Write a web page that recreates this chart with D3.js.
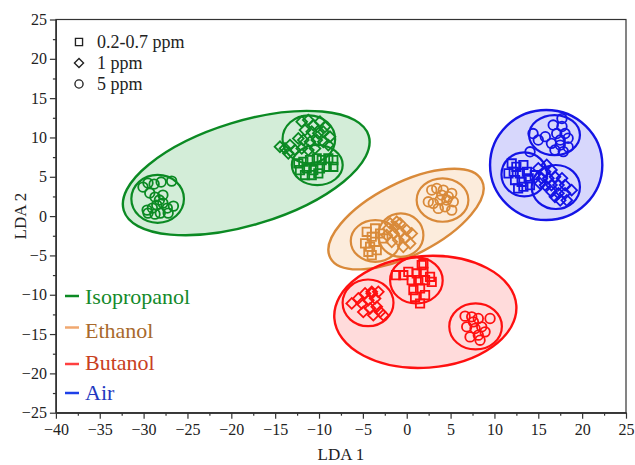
<!DOCTYPE html>
<html>
<head>
<meta charset="utf-8">
<script src="https://cdn.jsdelivr.net/npm/d3@7"></script>
<style>
  body { margin: 0; background: #fff; }
  text { font-family: "Liberation Serif", "DejaVu Serif", serif; }
</style>
</head>
<body>
<div id="chart"></div>
<script>
// gases, in drawing order
var gases = ["Isopropanol", "Ethanol", "Butanol", "Air"];

// LDA scores [LDA1, LDA2]
var isoSquares = [[-12.36, 6.7], [-11.79, 6.91], [-11.03, 7.12], [-10.26, 7.34], [-9.69, 7.12], [-8.94, 7.34], [-8.37, 7.12],
  [-12.17, 5.85], [-11.4, 6.07], [-10.65, 5.85], [-9.89, 6.07], [-9.12, 6.27], [-8.37, 6.27], [-11.6, 5.22], [-10.83, 5.22], [-10.08, 5.43]];
var isoDiamonds = [[-11.97, 12.0], [-11.22, 12.21], [-10.65, 11.58], [-9.89, 12.0], [-9.32, 11.36], [-11.6, 10.94], [-10.83, 10.73],
  [-10.08, 10.52], [-9.51, 10.73], [-8.75, 10.09], [-12.36, 9.88], [-11.79, 9.67], [-11.03, 9.45], [-10.26, 9.67], [-9.51, 9.45],
  [-8.94, 9.03], [-14.45, 8.82], [-13.88, 8.61], [-13.31, 9.03], [-12.74, 8.4], [-11.97, 8.61], [-11.22, 8.4], [-13.5, 7.98], [-10.46, 8.61]];
var isoCircles = [[-30.07, 3.69], [-29.5, 4.2], [-28.8, 4.07], [-28.0, 4.33], [-26.8, 4.45], [-29.3, 2.93], [-28.7, 2.42], [-28.2, 2.04],
  [-27.8, 1.65], [-28.5, 1.4], [-29.0, 1.02], [-29.6, 0.76], [-27.3, 1.02], [-26.6, 1.27], [-27.2, 0.38], [-28.1, 0.38], [-28.7, 0.25],
  [-29.5, 0.38], [-27.8, 2.67]];

var ethSquares = [[-4.56, -2.0], [-3.99, -2.63], [-4.75, -3.47], [-4.18, -3.9], [-3.61, -3.27], [-3.42, -4.33], [-3.99, -4.96],
  [-3.04, -2.21], [-2.67, -2.84], [-4.37, -4.54], [-3.61, -1.57]];
var ethDiamonds = [[-2.1, -1.57], [-1.33, -1.36], [-0.76, -0.93], [-2.28, -2.42], [-1.53, -2.2], [-0.76, -2.0], [0, -1.78], [0.57, -2.2],
  [-1.71, -3.27], [-0.96, -3.05], [-0.19, -2.84], [-1.14, -0.72], [-1.9, -0.93], [-0.39, -3.9], [0.38, -3.47]];
var ethCircles = [[2.85, 3.31], [3.42, 3.52], [4.17, 3.31], [5.13, 2.89], [2.46, 1.82], [3.03, 1.62], [3.8, 2.04], [4.56, 2.04],
  [5.31, 1.82], [3.6, 0.98], [4.37, 1.18], [5.13, 0.76], [3.99, 2.67], [4.74, 2.46]];

var butSquares = [[-1.22, -7.51], [0.18, -7.09], [1.14, -7.29], [1.9, -6.02], [1.9, -7.09], [2.85, -8.36], [0.57, -8.14], [1.32, -8.14],
  [2.09, -8.14], [0.76, -9.41], [1.52, -9.2], [0.95, -10.27], [2.09, -10.05], [1.52, -11.11], [1.71, -6.23], [-0.39, -7.51], [2.66, -7.72]];
var butDiamonds = [[-6.27, -11.1], [-5.52, -10.47], [-4.75, -9.83], [-3.99, -9.63], [-3.24, -9.63], [-5.13, -11.1], [-4.38, -10.69],
  [-3.61, -10.47], [-4.18, -11.74], [-3.42, -11.54], [-3.04, -12.18], [-3.81, -12.6], [-4.95, -12.18], [-3.99, -9.83], [-2.67, -12.6]];
var butCircles = [[6.65, -12.72], [7.41, -12.81], [8.16, -13.02], [9.5, -13.02], [6.84, -14.08], [7.6, -13.45], [8.55, -14.08],
  [7.22, -15.36], [8.16, -15.14], [8.93, -14.72], [7.79, -14.29], [8.36, -15.78]];

var airSquares = [[11.97, 6.7], [12.5, 6.27], [13.3, 6.5], [12.2, 5.64], [12.9, 5.43], [13.7, 5.64], [12.35, 4.58], [13.1, 4.36],
  [13.9, 4.8], [13.3, 3.73], [12.7, 3.52], [14.05, 3.94], [14.6, 5.2], [11.6, 5.43]];
var airDiamonds = [[15.0, 6.07], [15.77, 5.64], [16.5, 5.85], [15.4, 4.8], [16.15, 4.8], [16.9, 5.0], [17.7, 4.8], [15.77, 3.94],
  [16.5, 3.94], [17.3, 3.94], [18.05, 3.94], [16.5, 3.1], [17.3, 2.9], [18.05, 2.9], [18.8, 3.3], [17.5, 2.0], [18.25, 2.0],
  [15.2, 4.15], [15.96, 6.5], [16.9, 2.46]];
var airCircles = [[14.4, 10.5], [15.0, 9.67], [14.06, 8.18], [16.7, 11.58], [17.7, 12.4], [17.1, 10.5], [18.05, 10.5], [17.5, 9.67],
  [18.4, 9.9], [16.5, 9.25], [17.5, 9.03], [18.4, 8.8], [16.9, 8.4], [17.85, 8.2], [15.8, 10.1], [17.7, 11.4]];

// group ellipses: [cx, cy, rx, ry, rotation in degrees]
var gasEllipses = [[-18.3, 5.47, 14.6, 6.6, -17], [-0.08, -0.38, 9.7, 4.6, -27], [2.12, -12.18, 10.4, 7.1, -4], [15.9, 6.5, 6.4, 7.0, 0]];
var squareEllipses = [[-10.2, 6.49, 2.9, 2.55, 0], [-3.58, -3.16, 2.8, 2.65, 0], [1.1, -8.18, 3.0, 2.93, 0], [13.4, 5.3, 2.6, 2.8, 0]];
var diamondEllipses = [[-11.16, 9.77, 3.0, 3.05, 0], [-0.67, -2.42, 2.57, 2.76, 0], [-4.41, -11.03, 2.9, 2.97, 0], [17.0, 3.7, 2.75, 2.8, 0]];
var circleEllipses = [[-28.4, 2.2, 3.0, 3.05, 0], [4.08, 2.04, 2.95, 2.76, 0], [7.85, -14.03, 3.0, 2.93, 0], [16.85, 10.3, 2.9, 2.55, 0]];

var concLabels = ["0.2-0.7 ppm", "1 ppm", "5 ppm"];
var xTicks = d3.range(-40, 26, 5);
var yTicks = d3.range(-25, 26, 5);

var strokeColors = ["#0b8a23", "#d98a3a", "#ff1010", "#1414e6"];
var fillColors = ["rgba(20,160,50,0.19)", "rgba(240,160,80,0.2)", "rgba(255,40,40,0.17)", "rgba(40,40,240,0.19)"];
var legendLine = ["#0b8a23", "#f0a870", "#ff4040", "#1e40e8"];
var legendText = ["#138a2a", "#a8692c", "#c8401e", "#2438c0"];

var svgWidth = 635;
var svgHeight = 465;

var svg = d3.select("#chart")
  .append("svg")
  .attr("width", svgWidth)
  .attr("height", svgHeight);

var x = d3.scaleLinear().domain([-40, 25]).range([55.9, 626]);
var y = d3.scaleLinear().domain([-25, 25]).range([412.7, 19.5]);

// sub-group circles
function drawEllipses(data, width) {
  svg.append("g").selectAll("ellipse")
    .data(data)
    .enter()
    .append("ellipse")
    .attr("cx", d => x(d[0]))
    .attr("cy", d => y(d[1]))
    .attr("rx", d => x(d[0] + d[2]) - x(d[0]))
    .attr("ry", d => y(d[1]) - y(d[1] + d[3]))
    .attr("transform", d => `rotate(${d[4]},${x(d[0])},${y(d[1])})`)
    .attr("fill", "none")
    .attr("stroke", (d, i) => strokeColors[i])
    .attr("stroke-width", width);
}

// big ones one at a time so later gases sit on top
gasEllipses.forEach(function(e, i) {
  svg.append("ellipse")
    .attr("cx", x(e[0]))
    .attr("cy", y(e[1]))
    .attr("rx", x(e[0] + e[2]) - x(e[0]))
    .attr("ry", y(e[1]) - y(e[1] + e[3]))
    .attr("transform", `rotate(${e[4]},${x(e[0])},${y(e[1])})`)
    .attr("fill", fillColors[i])
    .attr("stroke", strokeColors[i])
    .attr("stroke-width", 2.4);
});
drawEllipses(squareEllipses, 2.2);
drawEllipses(diamondEllipses, 2.2);
drawEllipses(circleEllipses, 2.2);

// points
var squareSym = d3.symbol().type(d3.symbolSquare).size(70)();
var diamondSym = d3.symbol().type(d3.symbolSquare).size(58)();
var circleSym = d3.symbol().type(d3.symbolCircle).size(72)();

var groups = [
  [isoSquares, isoDiamonds, isoCircles],
  [ethSquares, ethDiamonds, ethCircles],
  [butSquares, butDiamonds, butCircles],
  [airSquares, airDiamonds, airCircles]
];
var syms = [squareSym, diamondSym, circleSym];
var rots = [0, 45, 0];

groups.forEach(function(g, gi) {
  g.forEach(function(pts, si) {
    svg.append("g").selectAll("path")
      .data(pts)
      .enter()
      .append("path")
      .attr("d", syms[si])
      .attr("transform", d => `translate(${x(d[0])},${y(d[1])}) rotate(${rots[si]})`)
      .attr("fill", "none")
      .attr("stroke", strokeColors[gi])
      .attr("stroke-width", 1.8);
  });
});

// frame + axes
svg.append("rect")
  .attr("x", x(-40))
  .attr("y", y(25))
  .attr("width", x(25) - x(-40))
  .attr("height", y(-25) - y(25))
  .attr("fill", "none")
  .attr("stroke", "#333")
  .attr("stroke-width", 1.2);

function fmt(d) { return d < 0 ? "\u2212" + Math.abs(d) : d; }

svg.append("g")
  .attr("transform", `translate(0,${y(-25)})`)
  .call(d3.axisBottom(x).tickValues(xTicks).tickFormat(fmt).tickSize(6).tickPadding(5).tickSizeOuter(0));
svg.append("g")
  .attr("transform", `translate(0,${y(-25)})`)
  .call(d3.axisBottom(x).tickValues(d3.range(-37.5, 25, 5)).tickFormat("").tickSize(3).tickSizeOuter(0));

svg.append("g")
  .attr("transform", `translate(${x(-40)},0)`)
  .call(d3.axisLeft(y).tickValues(yTicks).tickFormat(fmt).tickSize(6).tickPadding(3).tickSizeOuter(0));
svg.append("g")
  .attr("transform", `translate(${x(-40)},0)`)
  .call(d3.axisLeft(y).tickValues(d3.range(-22.5, 25, 5)).tickFormat("").tickSize(3).tickSizeOuter(0));

svg.selectAll(".domain").attr("stroke", "#333").attr("stroke-width", 1.2);
svg.selectAll(".tick line").attr("stroke", "#333").attr("stroke-width", 1.2);
svg.selectAll(".tick text").style("font-size", "16px").attr("fill", "#222")
  .style("font-family", "'Liberation Serif', serif");

svg.append("text")
  .attr("x", (x(-40) + x(25)) / 2)
  .attr("y", 460)
  .attr("text-anchor", "middle")
  .style("font-size", "17px")
  .attr("fill", "#222")
  .text("LDA 1");

svg.append("text")
  .attr("transform", `translate(26,${y(0)}) rotate(-90)`)
  .attr("text-anchor", "middle")
  .style("font-size", "17px")
  .attr("fill", "#222")
  .text("LDA 2");

// concentration legend (top left)
var concLegend = svg.append("g");
concLabels.forEach(function(lbl, i) {
  var ly = 42 + i * 21;
  concLegend.append("path")
    .attr("d", syms[i])
    .attr("transform", `translate(79,${ly}) rotate(${rots[i]}) scale(0.85)`)
    .attr("fill", "none")
    .attr("stroke", "#222")
    .attr("stroke-width", 1.6);
  concLegend.append("text")
    .attr("x", 97)
    .attr("y", ly + 6)
    .style("font-size", "18px")
    .attr("fill", "#222")
    .text(lbl);
});

// gas legend (bottom left)
var gasLineY = [296, 327.5, 364, 393];
var gasTextY = [304, 337.5, 370, 399.5];
gases.forEach(function(g, i) {
  svg.append("line")
    .attr("x1", 65).attr("x2", 79)
    .attr("y1", gasLineY[i]).attr("y2", gasLineY[i])
    .attr("stroke", legendLine[i])
    .attr("stroke-width", 2.5);
  svg.append("text")
    .attr("x", 85)
    .attr("y", gasTextY[i])
    .style("font-size", "22px")
    .attr("fill", legendText[i])
    .text(g);
});
</script>
</body>
</html>
